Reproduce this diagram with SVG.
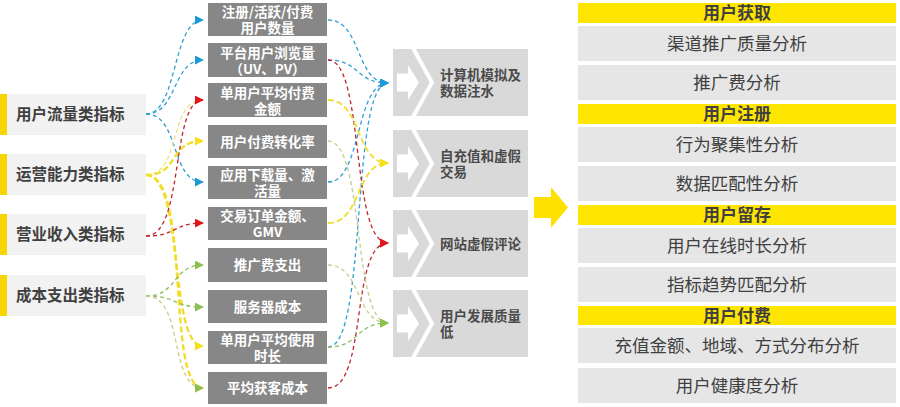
<svg xmlns="http://www.w3.org/2000/svg" width="900" height="407" viewBox="0 0 900 407">
<style>
text{font-family:"Noto Sans CJK SC","Liberation Sans",sans-serif}
.lb{fill:#f2f2f2}
.lbar{fill:#f7d600}
.lt{font-size:15.5px;font-weight:700;fill:#404040}
.mb{fill:#878787}
.mt{font-size:13.5px;font-weight:700;fill:#ffffff;text-anchor:middle}
.pb{fill:#d9d9d9}
.pt{font-size:13.5px;font-weight:700;fill:#4a4a4a}
.hb{fill:#ffe600}
.ht{font-size:17px;font-weight:700;fill:#404040;text-anchor:middle}
.rb{fill:#e6e6e6}
.rt{font-size:17.5px;fill:#404040;text-anchor:middle}
.c{fill:none}
.bl{stroke:#2f9fd3;stroke-width:1.3;stroke-dasharray:4 3}
.rd{stroke:#c0262c;stroke-width:1.3;stroke-dasharray:4 3}
.yl{stroke:#f2de2a;stroke-width:2.4;stroke-dasharray:6 3}
.yt{stroke:#efe07a;stroke-width:1.3;stroke-dasharray:4 3}
.gr{stroke:#8dbd5a;stroke-width:1.3;stroke-dasharray:4 3}
.kh{stroke:#c9cc8a;stroke-width:1.3;stroke-dasharray:4 3}
</style>
<defs>
<marker id="ab" viewBox="0 0 10 10" refX="9" refY="5" markerWidth="9" markerHeight="9" markerUnits="userSpaceOnUse" orient="auto"><path d="M0,0L10,5L0,10z" fill="#1c9ad6"/></marker>
<marker id="ar" viewBox="0 0 10 10" refX="9" refY="5" markerWidth="9" markerHeight="9" markerUnits="userSpaceOnUse" orient="auto"><path d="M0,0L10,5L0,10z" fill="#e0161e"/></marker>
<marker id="ay" viewBox="0 0 10 10" refX="9" refY="5" markerWidth="9" markerHeight="9" markerUnits="userSpaceOnUse" orient="auto"><path d="M0,0L10,5L0,10z" fill="#f5e11a"/></marker>
<marker id="ag" viewBox="0 0 10 10" refX="9" refY="5" markerWidth="9" markerHeight="9" markerUnits="userSpaceOnUse" orient="auto"><path d="M0,0L10,5L0,10z" fill="#8cc152"/></marker>
<g id="chev">
<rect x="0" y="0" width="135" height="67" class="pb"/>
<polyline points="20,-1 39,33.5 20,68" fill="none" stroke="#ffffff" stroke-width="4"/>
<path d="M4,24.5H15V16L26,33.5L15,51V42.5H4z" fill="#ffffff"/>
</g>
</defs>

<g id="connectors">
<path class="c bl" d="M146,114 C178,114 172,20 203,20" marker-end="url(#ab)"/>
<path class="c bl" d="M146,114 C178,114 172,60 203,60" marker-end="url(#ab)"/>
<path class="c bl" d="M146,114 C180,114 170,182 203,182" marker-end="url(#ab)"/>
<path class="c yt" d="M146,175 C182,175 168,100 203,100"/>
<path class="c yl" d="M146,175 C180,175 168,141 203,141" marker-end="url(#ay)"/>
<path class="c yl" d="M146,175 C185,175 168,346 203,346" marker-end="url(#ay)"/>
<path class="c yl" d="M146,175 C192,175 165,388 203,388" marker-end="url(#ay)"/>
<path class="c rd" d="M146,236 C185,236 170,100 203,100" marker-end="url(#ar)"/>
<path class="c rd" d="M146,236 C178,236 172,223 203,223" marker-end="url(#ar)"/>
<path class="c gr" d="M146,296 C178,296 172,265 203,265" marker-end="url(#ag)"/>
<path class="c gr" d="M146,296 C178,296 172,307 203,307" marker-end="url(#ag)"/>
<path class="c kh" d="M146,296 C185,296 168,388 203,388" marker-end="url(#ag)"/>
<path class="c bl" d="M328,20 C362,20 355,83 388,83" marker-end="url(#ab)"/>
<path class="c bl" d="M328,60 C360,60 355,83 388,83" marker-end="url(#ab)"/>
<path class="c bl" d="M328,182 C362,182 355,83 388,83" marker-end="url(#ab)"/>
<path class="c bl" d="M328,347 C368,347 350,83 388,83" marker-end="url(#ab)"/>
<path class="c rd" d="M328,60 C365,60 350,243 388,243" marker-end="url(#ar)"/>
<path class="c rd" d="M328,388 C368,388 350,243 388,243" marker-end="url(#ar)"/>
<path class="c yl" style="stroke-width:1.8" d="M328,100 C362,100 355,163 388,163" marker-end="url(#ay)"/>
<path class="c yl" style="stroke-width:1.8" d="M328,223 C362,223 355,163 388,163" marker-end="url(#ay)"/>
<path class="c kh" d="M328,141 C365,141 352,323 388,323" marker-end="url(#ag)"/>
<path class="c kh" d="M328,265 C362,265 355,323 388,323" marker-end="url(#ag)"/>
<path class="c gr" d="M328,347 C360,347 355,323 388,323" marker-end="url(#ag)"/>
</g>

<g id="left-1"><rect class="lb" x="0" y="94" width="146" height="41"/><rect class="lbar" x="0" y="94" width="7" height="41"/><text class="lt" x="16" y="120">用户流量类指标</text></g>
<g id="left-2"><rect class="lb" x="0" y="154" width="146" height="41"/><rect class="lbar" x="0" y="154" width="7" height="41"/><text class="lt" x="16" y="180">运营能力类指标</text></g>
<g id="left-3"><rect class="lb" x="0" y="214" width="146" height="41"/><rect class="lbar" x="0" y="214" width="7" height="41"/><text class="lt" x="16" y="240">营业收入类指标</text></g>
<g id="left-4"><rect class="lb" x="0" y="275" width="146" height="41"/><rect class="lbar" x="0" y="275" width="7" height="41"/><text class="lt" x="16" y="301">成本支出类指标</text></g>

<g id="mid-1"><rect class="mb" x="208" y="3" width="119" height="33"/><text class="mt" x="267.5" y="17"><tspan x="267.5">注册/活跃/付费</tspan><tspan x="267.5" dy="16">用户数量</tspan></text></g>
<g id="mid-2"><rect class="mb" x="208" y="43" width="119" height="34"/><text class="mt" x="267.5" y="57.5"><tspan x="267.5">平台用户浏览量</tspan><tspan x="267.5" dy="16">（UV、PV）</tspan></text></g>
<g id="mid-3"><rect class="mb" x="208" y="83" width="119" height="34"/><text class="mt" x="267.5" y="97.5"><tspan x="267.5">单用户平均付费</tspan><tspan x="267.5" dy="16">金额</tspan></text></g>
<g id="mid-4"><rect class="mb" x="208" y="125" width="119" height="33"/><text class="mt" x="267.5" y="146.5">用户付费转化率</text></g>
<g id="mid-5"><rect class="mb" x="208" y="166" width="119" height="33"/><text class="mt" x="267.5" y="180"><tspan x="267.5">应用下载量、激</tspan><tspan x="267.5" dy="16">活量</tspan></text></g>
<g id="mid-6"><rect class="mb" x="208" y="207" width="119" height="33"/><text class="mt" x="267.5" y="221"><tspan x="267.5">交易订单金额、</tspan><tspan x="267.5" dy="16">GMV</tspan></text></g>
<g id="mid-7"><rect class="mb" x="208" y="248" width="119" height="34"/><text class="mt" x="267.5" y="270">推广费支出</text></g>
<g id="mid-8"><rect class="mb" x="208" y="290" width="119" height="33"/><text class="mt" x="267.5" y="311.5">服务器成本</text></g>
<g id="mid-9"><rect class="mb" x="208" y="331" width="119" height="33"/><text class="mt" x="267.5" y="345"><tspan x="267.5">单用户平均使用</tspan><tspan x="267.5" dy="16">时长</tspan></text></g>
<g id="mid-10"><rect class="mb" x="208" y="372" width="119" height="32"/><text class="mt" x="267.5" y="393">平均获客成本</text></g>

<g id="risk-1"><use href="#chev" x="393" y="49"/><text class="pt" x="440" y="80"><tspan x="440">计算机模拟及</tspan><tspan x="440" dy="16">数据注水</tspan></text></g>
<g id="risk-2"><use href="#chev" x="393" y="130"/><text class="pt" x="440" y="161"><tspan x="440">自充值和虚假</tspan><tspan x="440" dy="16">交易</tspan></text></g>
<g id="risk-3"><use href="#chev" x="393" y="210"/><text class="pt" x="440" y="248.5">网站虚假评论</text></g>
<g id="risk-4"><use href="#chev" x="393" y="290"/><text class="pt" x="440" y="321"><tspan x="440">用户发展质量</tspan><tspan x="440" dy="16">低</tspan></text></g>

<g id="big-arrow"><path d="M534,197H551V187L568,207.5L551,228V218H534z" fill="#ffe100"/></g>

<g id="acq"><rect class="hb" x="578" y="3" width="318" height="20"/><text class="ht" x="737" y="19">用户获取</text>
<rect class="rb" x="578" y="26" width="318" height="35"/><text class="rt" x="737" y="49.5">渠道推广质量分析</text>
<rect class="rb" x="578" y="65" width="318" height="35"/><text class="rt" x="737" y="88.5">推广费分析</text></g>
<g id="reg"><rect class="hb" x="578" y="104" width="318" height="20"/><text class="ht" x="737" y="120">用户注册</text>
<rect class="rb" x="578" y="127" width="318" height="35"/><text class="rt" x="737" y="150.5">行为聚集性分析</text>
<rect class="rb" x="578" y="166" width="318" height="35"/><text class="rt" x="737" y="189.5">数据匹配性分析</text></g>
<g id="ret"><rect class="hb" x="578" y="205" width="318" height="20"/><text class="ht" x="737" y="221">用户留存</text>
<rect class="rb" x="578" y="228" width="318" height="35"/><text class="rt" x="737" y="251.5">用户在线时长分析</text>
<rect class="rb" x="578" y="267" width="318" height="35"/><text class="rt" x="737" y="290.5">指标趋势匹配分析</text></g>
<g id="pay"><rect class="hb" x="578" y="306" width="318" height="19"/><text class="ht" x="737" y="321.5">用户付费</text>
<rect class="rb" x="578" y="328" width="318" height="35"/><text class="rt" x="737" y="351.5">充值金额、地域、方式分布分析</text>
<rect class="rb" x="578" y="368" width="318" height="35"/><text class="rt" x="737" y="391.5">用户健康度分析</text></g>
</svg>
